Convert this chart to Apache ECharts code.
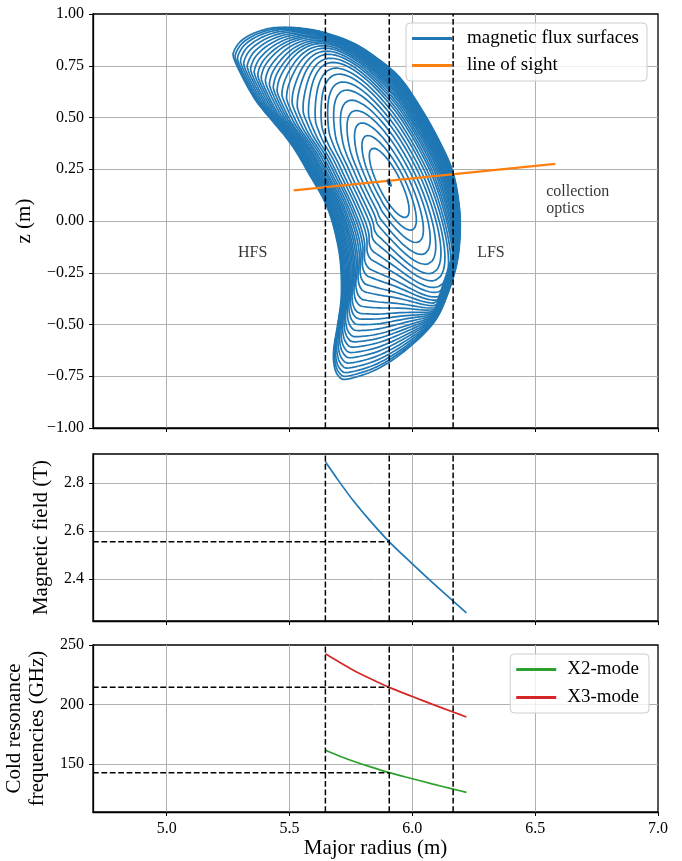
<!DOCTYPE html>
<html>
<head>
<meta charset="utf-8">
<style>
  html, body { margin: 0; padding: 0; background: #fff; }
  #chart { width: 682px; height: 861px; }
</style>
<script src="https://cdn.jsdelivr.net/npm/echarts@6/dist/echarts.min.js"></script>
</head>
<body>
<div id="chart"></div>
<script>
'use strict';

// ---- data ----
var xTicks = [5.0, 5.5, 6.0, 6.5, 7.0];
var zTicks = [-1, -0.75, -0.5, -0.25, 0, 0.25, 0.5, 0.75, 1];
var bTicks = [2.4, 2.6, 2.8];
var fTicks = [150, 200, 250];

// last closed flux surface (R, z)
var lcfsR = [6.195, 6.182, 6.141, 6.087, 5.978, 5.856, 5.735, 5.700, 5.682, 5.680, 5.696, 5.710,
  5.710, 5.700, 5.673, 5.639, 5.585, 5.503, 5.381, 5.340, 5.300, 5.273, 5.273, 5.300, 5.354,
  5.422, 5.490, 5.571, 5.653, 5.761, 5.856, 5.951, 6.039, 6.107, 6.162, 6.188];
var lcfsZ = [-0.040, -0.201, -0.362, -0.491, -0.619, -0.716, -0.764, -0.750, -0.700, -0.619, -0.500, -0.378,
  -0.250, -0.137, 0.000, 0.104, 0.216, 0.377, 0.553, 0.626, 0.715, 0.787, 0.818, 0.867, 0.907,
  0.931, 0.936, 0.928, 0.907, 0.859, 0.787, 0.690, 0.537, 0.393, 0.248, 0.100];

// magnetic axis and half-axes of the innermost (elliptic) surface
var axisR = 5.906, axisZ = 0.184;
var coreMajor = [0.070, -0.165];
var coreMinor = [0.040, 0.024];

// normalised radius of each drawn surface
var fluxLevels = [0.02, 0.19, 0.26, 0.33, 0.40, 0.46, 0.52, 0.57, 0.62, 0.66, 0.70, 0.73, 0.76,
  0.785, 0.81, 0.83, 0.85, 0.865, 0.88, 0.895, 0.91, 0.922, 0.934, 0.946, 0.957, 0.968,
  0.978, 0.987, 0.994, 1.0];

// line of sight
var losR = [5.517, 6.582];
var losZ = [0.148, 0.276];

// profiles along the line of sight
var profR = [5.646, 5.70, 5.76, 5.83, 5.906, 6.00, 6.08, 6.166, 6.22];
var fieldB = [2.8875, 2.808, 2.725, 2.639, 2.554, 2.462, 2.386, 2.307, 2.258];
var freqX2 = [161.7, 157.2, 152.6, 147.8, 143.0, 137.9, 133.6, 129.2, 126.4];
var freqX3 = [242.6, 235.9, 228.9, 221.7, 214.5, 206.8, 200.4, 193.8, 189.7];

// marker positions
var markR = [5.646, 5.906, 6.166];
var axisField = 2.554;
var axisX2 = 143.0;
var axisX3 = 214.5;

var noteText = ['HFS', 'LFS', 'collection\noptics'];
var noteR = [5.35, 6.32, 6.543];
var noteZ = [-0.153, -0.153, 0.10];

var xRange = [4.7, 7.0];
var zRange = [-1, 1];
var bRange = [2.224, 2.92];
var fRange = [110, 250];

// ---- styling ----
var FONT = '"Liberation Serif", "DejaVu Serif", serif';
var BLUE = '#1f77b4', ORANGE = '#ff7f0e', GREEN = '#2ca02c', RED = '#d62728';
var DASH = [5.8, 2.6];
var SHAPE_POWER = 3;   // how fast the surfaces turn from ellipse to bean

// smooth closed outline through the boundary points (Catmull-Rom)
function outline(n) {
  var m = lcfsR.length, out = [];
  for (var i = 0; i < m; i++) {
    var i0 = (i - 1 + m) % m, i2 = (i + 1) % m, i3 = (i + 2) % m;
    for (var k = 0; k < n; k++) {
      var t = k / n, t2 = t * t, t3 = t2 * t;
      var c0 = 0.5 * (-t3 + 2 * t2 - t), c1 = 0.5 * (3 * t3 - 5 * t2 + 2);
      var c2 = 0.5 * (-3 * t3 + 4 * t2 + t), c3 = 0.5 * (t3 - t2);
      out.push([
        c0 * lcfsR[i0] + c1 * lcfsR[i] + c2 * lcfsR[i2] + c3 * lcfsR[i3],
        c0 * lcfsZ[i0] + c1 * lcfsZ[i] + c2 * lcfsZ[i2] + c3 * lcfsZ[i3]
      ]);
    }
  }
  return out;
}

// nested surfaces: blend from the inner ellipse to the outer boundary
var det = coreMajor[0] * coreMinor[1] - coreMinor[0] * coreMajor[1];
var coreInv = [[coreMinor[1] / det, -coreMinor[0] / det], [-coreMajor[1] / det, coreMajor[0] / det]];
var s1 = fluxLevels[1];
var coreScale = 1 / (s1 * (1 - Math.pow(s1, SHAPE_POWER)));
var boundary = outline(8);

var ellipseRatio = boundary.map(function (p) {
  var dR = p[0] - axisR, dz = p[1] - axisZ;
  var u = coreInv[0][0] * dR + coreInv[0][1] * dz;
  var v = coreInv[1][0] * dR + coreInv[1][1] * dz;
  return coreScale / Math.sqrt(u * u + v * v);
});

// fraction of the boundary vector for each level, kept strictly nested
var factors = fluxLevels.map(function (s) {
  var w = Math.pow(s, SHAPE_POWER);
  return ellipseRatio.map(function (e) { return s * ((1 - w) * e + w); });
});
for (var k = factors.length - 2; k >= 0; k--) {
  for (var j = 0; j < boundary.length; j++) {
    factors[k][j] = Math.min(factors[k][j], factors[k + 1][j] - 0.004);
  }
}

function surface(k) {
  var pts = boundary.map(function (p, j) {
    var f = Math.max(factors[k][j], 0.004);
    return [axisR + f * (p[0] - axisR), axisZ + f * (p[1] - axisZ)];
  });
  pts.push(pts[0]);
  return pts;
}

function pairs(xs, ys) {
  return xs.map(function (x, i) { return [x, ys[i]]; });
}

function xAxisFor(i, showLabels) {
  var ax = {
    type: 'value', gridIndex: i, min: xRange[0], max: xRange[1],
    axisLine: {show: true, onZero: false, lineStyle: {color: '#000', width: 1.3}},
    axisTick: {show: true, inside: false, length: 4, customValues: xTicks, lineStyle: {color: '#000', width: 1}},
    axisLabel: {
      show: showLabels, customValues: xTicks, margin: 9, fontSize: 16, color: '#000', fontFamily: FONT,
      formatter: function (v) { return v.toFixed(1); }
    },
    splitLine: {show: true, showMinLine: true, showMaxLine: false, lineStyle: {color: '#b0b0b0', width: 1}}
  };
  if (showLabels) {
    ax.name = 'Major radius (m)';
    ax.nameLocation = 'middle';
    ax.nameGap = 23;
    ax.nameTextStyle = {fontSize: 21, fontFamily: FONT, color: '#000'};
  }
  return ax;
}

function yAxisFor(i, range, ticks, digits, name, gap, showMin, showMax) {
  return {
    type: 'value', gridIndex: i, min: range[0], max: range[1],
    name: name, nameLocation: 'middle', nameGap: gap,
    nameTextStyle: {fontSize: 21, fontFamily: FONT, color: '#000', lineHeight: 23},
    axisLine: {show: true, lineStyle: {color: '#000', width: 1.3}},
    axisTick: {show: true, inside: false, length: 4, customValues: ticks, lineStyle: {color: '#000', width: 1}},
    axisLabel: {
      customValues: ticks, margin: 9, fontSize: 16, color: '#000', fontFamily: FONT,
      formatter: function (v) { return v.toFixed(digits).replace('-', '\u2212'); }
    },
    splitLine: {show: true, showMinLine: showMin, showMaxLine: showMax, lineStyle: {color: '#b0b0b0', width: 1}}
  };
}

function dashed(grid, data) {
  return {
    type: 'line', xAxisIndex: grid, yAxisIndex: grid, data: data, showSymbol: false, silent: true,
    z: 6, lineStyle: {color: '#000', width: 1.5, type: DASH}
  };
}

var series = [];

fluxLevels.forEach(function (s, k) {
  series.push({
    name: 'magnetic flux surfaces', type: 'line', xAxisIndex: 0, yAxisIndex: 0,
    data: surface(k), showSymbol: false, silent: true, z: k === 0 ? 5 : 2,
    itemStyle: {color: BLUE}, lineStyle: {color: BLUE, width: 1.7}
  });
});

series.push({
  name: 'line of sight', type: 'line', xAxisIndex: 0, yAxisIndex: 0,
  data: pairs(losR, losZ), showSymbol: false, silent: true, z: 4,
  itemStyle: {color: ORANGE}, lineStyle: {color: ORANGE, width: 2.2}
});

series.push({
  type: 'scatter', xAxisIndex: 0, yAxisIndex: 0, symbolSize: 1, silent: true, z: 7,
  itemStyle: {color: 'rgba(0,0,0,0)'},
  data: noteText.map(function (t, i) {
    return {
      value: [noteR[i], noteZ[i]], name: t,
      label: i === 2 ? {position: 'right', distance: 0} : {position: 'inside'}
    };
  }),
  label: {
    show: true, color: '#000', fontSize: 16, fontFamily: FONT, lineHeight: 17,
    formatter: function (p) { return p.name; }
  }
});

series.push({
  name: 'B', type: 'line', xAxisIndex: 1, yAxisIndex: 1, data: pairs(profR, fieldB),
  showSymbol: false, smooth: 0.3, silent: true, itemStyle: {color: BLUE}, lineStyle: {color: BLUE, width: 1.7}
});
series.push({
  name: 'X2-mode', type: 'line', xAxisIndex: 2, yAxisIndex: 2, data: pairs(profR, freqX2),
  showSymbol: false, smooth: 0.3, silent: true, itemStyle: {color: GREEN}, lineStyle: {color: GREEN, width: 1.7}
});
series.push({
  name: 'X3-mode', type: 'line', xAxisIndex: 2, yAxisIndex: 2, data: pairs(profR, freqX3),
  showSymbol: false, smooth: 0.3, silent: true, itemStyle: {color: RED}, lineStyle: {color: RED, width: 1.7}
});

var yRanges = [zRange, bRange, fRange];
[0, 1, 2].forEach(function (g) {
  markR.forEach(function (r) {
    series.push(dashed(g, [[r, yRanges[g][0]], [r, yRanges[g][1]]]));
  });
});
series.push(dashed(1, [[xRange[0], axisField], [markR[1], axisField]]));
series.push(dashed(2, [[xRange[0], axisX2], [markR[1], axisX2]]));
series.push(dashed(2, [[xRange[0], axisX3], [markR[1], axisX3]]));

var gridBase = {
  left: 93, right: 24, show: true, borderColor: '#000', borderWidth: 1.3,
  backgroundColor: 'transparent', containLabel: false, outerBoundsMode: 'none'
};

var option = {
  animation: false,
  backgroundColor: '#fff',
  textStyle: {fontFamily: FONT, color: '#000'},
  grid: [
    Object.assign({top: 14, height: 414}, gridBase),
    Object.assign({top: 454, height: 167}, gridBase),
    Object.assign({top: 645, height: 167}, gridBase)
  ],
  xAxis: [xAxisFor(0, false), xAxisFor(1, false), xAxisFor(2, true)],
  yAxis: [
    yAxisFor(0, zRange, zTicks, 2, 'z (m)', 56, false, false),
    yAxisFor(1, bRange, bTicks, 1, 'Magnetic field (T)', 31, true, true),
    yAxisFor(2, fRange, fTicks, 0, 'Cold resonance\nfrequencies (GHz)', 40, true, false)
  ],
  legend: [
    {
      data: ['magnetic flux surfaces', 'line of sight'],
      orient: 'vertical', right: 35, top: 23, selectedMode: false,
      icon: 'rect', itemWidth: 40, itemHeight: 3, itemGap: 6,
      padding: [5, 8, 5, 6],
      backgroundColor: 'rgba(255,255,255,0.8)', borderColor: '#cccccc', borderWidth: 1, borderRadius: 4,
      textStyle: {fontSize: 19, fontFamily: FONT, color: '#000', lineHeight: 21, padding: [0, 0, 0, 10]}
    },
    {
      data: ['X2-mode', 'X3-mode'],
      orient: 'vertical', right: 33, top: 654, selectedMode: false,
      icon: 'rect', itemWidth: 40, itemHeight: 3, itemGap: 7,
      padding: [5, 10, 5, 6],
      backgroundColor: 'rgba(255,255,255,0.8)', borderColor: '#cccccc', borderWidth: 1, borderRadius: 4,
      textStyle: {fontSize: 19, fontFamily: FONT, color: '#000', lineHeight: 21, padding: [0, 0, 0, 6]}
    }
  ],
  series: series
};

var myChart = echarts.init(document.getElementById('chart'));
myChart.setOption(option);
</script>
</body>
</html>
